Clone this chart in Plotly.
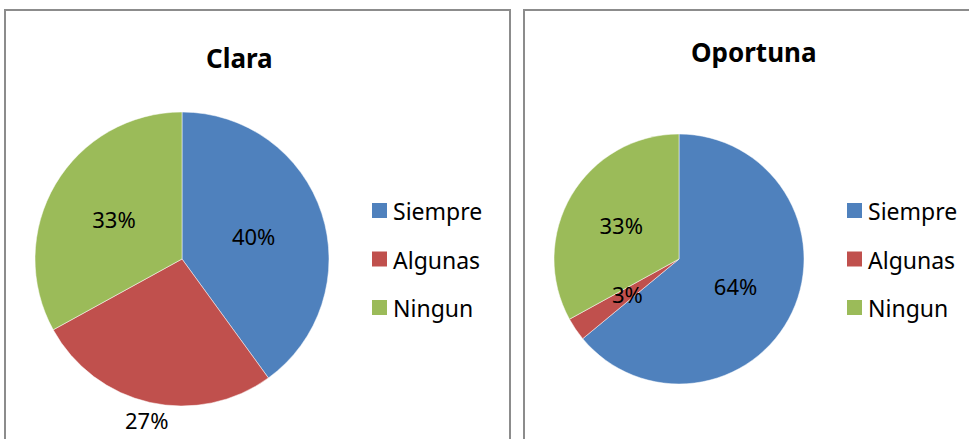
import math
import plotly.graph_objects as go

W, H = 969, 439

categories = ["Siempre", "Algunas", "Ningun"]
clara_values = [40, 27, 33]
oportuna_values = [64, 3, 33]
clara_title = "Clara"
oportuna_title = "Oportuna"
colors = ["#4F81BD", "#C0504D", "#9BBB59"]
FONT = "'Noto Sans', 'Open Sans', sans-serif"
LABEL_SIZE = 22
LEGEND_SIZE = 23
TITLE_SIZE = 26


def px(x):
    return x / W


def py(y):
    return 1 - y / H


shapes = []
annotations = []

# pie geometry (center x, center y, radius) in pixels
# label mode per slice: "inside" drawn by the pie, "mid"/"out" placed along the slice's mid-angle
pies = [
    dict(title=clara_title, values=clara_values, cx=182, cy=259, r=147,
         pos=["inside", "out", "inside"], title_xy=(239, 58), legend_x=372),
    dict(title=oportuna_title, values=oportuna_values, cx=679, cy=259, r=125,
         pos=["inside", "mid", "inside"], title_xy=(754, 52), legend_x=847),
]

fig = go.Figure()
for p in pies:
    fig.add_trace(go.Pie(
        labels=categories, values=p["values"], sort=False, direction="clockwise",
        rotation=0, marker=dict(colors=colors, line=dict(color="white", width=0.5)),
        textinfo="percent", texttemplate="%{percent:.0%}",
        textposition=[t if t == "inside" else "none" for t in p["pos"]],
        insidetextorientation="horizontal",
        textfont=dict(family=FONT, size=LABEL_SIZE, color="black"),
        domain=dict(x=[px(p["cx"] - p["r"]), px(p["cx"] + p["r"])],
                    y=[py(p["cy"] + p["r"]), py(p["cy"] - p["r"])]),
        showlegend=False, hoverinfo="label+percent",
    ))
    total = sum(p["values"])
    cum = 0
    for v, tp in zip(p["values"], p["pos"]):
        mid = (cum + v / 2) / total * 2 * math.pi
        cum += v
        if tp == "inside":
            continue
        k = 0.5 if tp == "mid" else 1.12
        lx = p["cx"] + k * p["r"] * math.sin(mid)
        ly = p["cy"] - k * p["r"] * math.cos(mid)
        annotations.append(dict(text="%d%%" % round(100 * v / total), x=px(lx), y=py(ly),
                                xref="paper", yref="paper", showarrow=False,
                                xanchor="center", yanchor="middle",
                                font=dict(family=FONT, size=LABEL_SIZE, color="black")))
    # title
    tx, ty = p["title_xy"]
    annotations.append(dict(text="<b>%s</b>" % p["title"], x=px(tx), y=py(ty),
                            xref="paper", yref="paper", showarrow=False,
                            font=dict(family=FONT, size=TITLE_SIZE, color="black"),
                            xanchor="center", yanchor="middle"))
    # legend
    lxp = p["legend_x"]
    for i, (cat, col) in enumerate(zip(categories, colors)):
        yc = 210.5 + i * 48.5
        shapes.append(dict(type="rect", xref="paper", yref="paper",
                           x0=px(lxp), x1=px(lxp + 15), y0=py(yc + 7.5), y1=py(yc - 7.5),
                           fillcolor=col, line=dict(width=0)))
        annotations.append(dict(text=cat, x=px(lxp + 19), y=py(yc + 0.5), xref="paper", yref="paper",
                                showarrow=False, xanchor="left", yanchor="middle",
                                font=dict(family=FONT, size=LEGEND_SIZE, color="black")))

# Panel borders
border = dict(color="#8C8C8C", width=2)
shapes.append(dict(type="rect", xref="paper", yref="paper",
                   x0=px(5), x1=px(510), y0=py(460), y1=py(10), line=border))
shapes.append(dict(type="rect", xref="paper", yref="paper",
                   x0=px(524), x1=px(990), y0=py(460), y1=py(10), line=border))

fig.update_layout(
    width=W, height=H,
    margin=dict(l=0, r=0, t=0, b=0),
    paper_bgcolor="white", plot_bgcolor="white",
    shapes=shapes, annotations=annotations,
    showlegend=False,
)

fig.write_html("out.html", config={"displayModeBar": False},
               post_script="document.body.style.margin='0';")
